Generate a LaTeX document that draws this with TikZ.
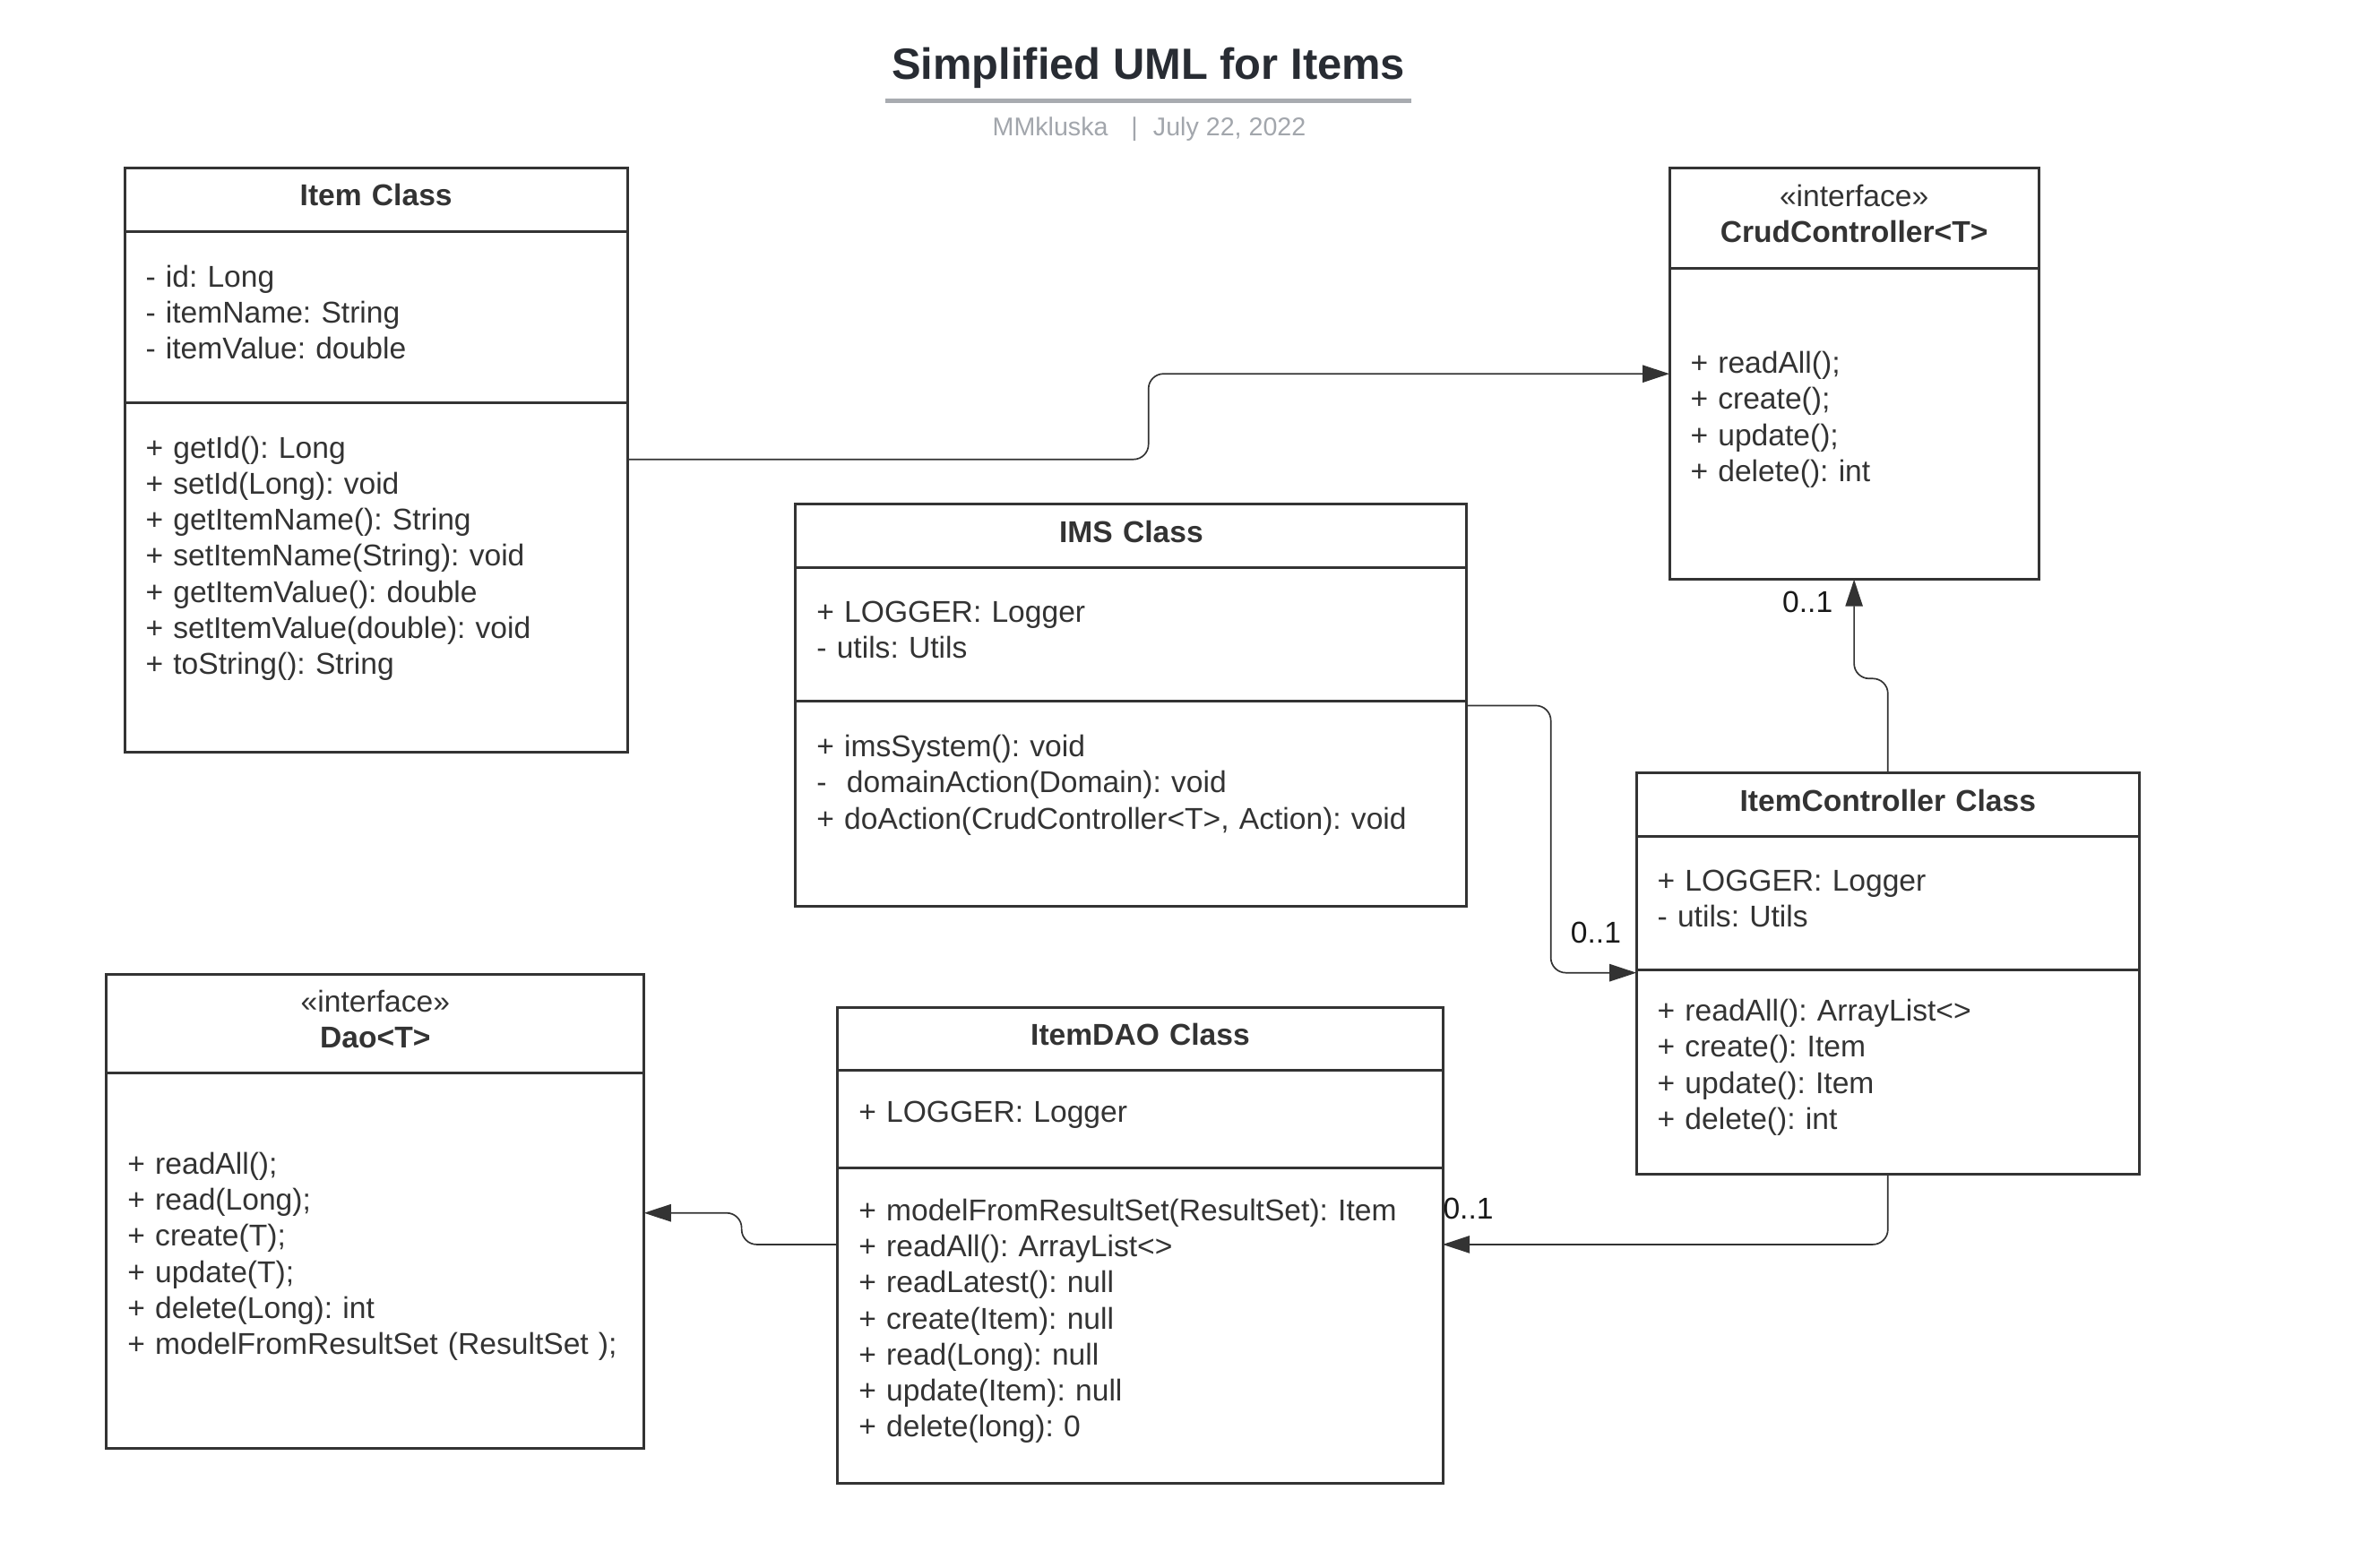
\documentclass[tikz,border=0pt]{standalone}
\usepackage{fontspec}
\setmainfont{Liberation Sans}
\usepackage{tikz}
\usetikzlibrary{arrows.meta,positioning,calc}
\frenchspacing
\definecolor{cInk}{HTML}{333333}
\definecolor{cHead}{HTML}{282C33}
\definecolor{cMute}{HTML}{A2A6AC}
\definecolor{cRule}{HTML}{A8ABB0}
\newlength{\pxu}
\setlength{\pxu}{0.016754cm}
\tikzset{
  >={Triangle[length=3.0mm,width=1.93mm]},
  box/.style  ={draw=cInk,line width=1.8\pxu,outer sep=0pt,inner xsep=14\pxu,
                inner ysep=0pt,text=cInk,execute at end node={\par\vspace{6\pxu}},
                font=\fontsize{9.56}{11.44}\selectfont},
  hbox/.style ={box,align=center,text width=#1},
  cbox/.style ={box,align=left,text width=#1},
  ar/.style   ={->,line width=1\pxu,cInk,rounded corners=10\pxu},
  mult/.style ={text=black!90,font=\fontsize{9.56}{11.44}\selectfont,inner sep=1pt},
}

\begin{document}
\begin{tikzpicture}[x=0.016754cm,y=-0.016754cm]
\useasboundingbox (0,0) rectangle (1568,1044);
\node[font=\fontsize{13.9}{16}\selectfont\bfseries,text=cHead] (title) at (765,45.5) {Simplified UML for Items};
\node[font=\fontsize{8.15}{10}\selectfont,text=cMute] (sub) at (765.5,86) {MMkluska\hspace{0.9em}|\hspace{0.6em}July 22, 2022};
\draw[cRule,line width=3\pxu] ($(title.center)+(-175,21.5)$) -- ($(title.center)+(175,21.5)$);

\node[hbox=307\pxu,minimum height=42\pxu,anchor=north west] (item) at (83,112) {\textbf{Item Class}};
\node[cbox=307\pxu,minimum height=114\pxu,below=0pt of item] (item-a) {- id: Long\\- itemName: String\\- itemValue: double};
\node[cbox=307\pxu,minimum height=233\pxu,below=0pt of item-a] (item-m) {+ getId(): Long\\+ setId(Long): void\\+ getItemName(): String\\+ setItemName(String): void\\+ getItemValue(): double\\+ setItemValue(double): void\\+ toString(): String\\[-8\pxu]\strut};

\node[hbox=218\pxu,minimum height=67\pxu,anchor=north west] (crud) at (1112,112) {«interface»\\\textbf{CrudController<T>}};
\node[cbox=218\pxu,minimum height=207\pxu,below=0pt of crud] (crud-m) {+ readAll();\\+ create();\\+ update();\\+ delete(): int};

\node[hbox=419\pxu,minimum height=42\pxu,anchor=north west] (ims) at (530,336) {\textbf{IMS Class}};
\node[cbox=419\pxu,minimum height=89\pxu,below=0pt of ims] (ims-a) {+ LOGGER: Logger\\- utils: Utils};
\node[cbox=419\pxu,minimum height=137\pxu,below=0pt of ims-a] (ims-m) {+ imsSystem(): void\\-\ \ domainAction(Domain): void\\+ doAction(CrudController<T>, Action): void\\[-8\pxu]\strut};

\node[hbox=307\pxu,minimum height=42\pxu,anchor=north west] (ictl) at (1090,515) {\textbf{ItemController Class}};
\node[cbox=307\pxu,minimum height=89\pxu,below=0pt of ictl] (ictl-a) {+ LOGGER: Logger\\- utils: Utils};
\node[cbox=307\pxu,minimum height=136\pxu,below=0pt of ictl-a] (ictl-m) {+ readAll(): ArrayList<>\\+ create(): Item\\+ update(): Item\\+ delete(): int};

\node[hbox=330\pxu,minimum height=66\pxu,anchor=north west] (dao) at (71,649) {«interface»\\\textbf{Dao<T>}};
\node[cbox=330\pxu,minimum height=250\pxu,below=0pt of dao] (dao-m) {+ readAll();\\+ read(Long);\\+ create(T);\\+ update(T);\\+ delete(Long): int\\+ modelFromResultSet (ResultSet );};

\node[hbox=375\pxu,minimum height=42\pxu,anchor=north west] (idao) at (558,671) {\textbf{ItemDAO Class}};
\node[cbox=375\pxu,minimum height=65\pxu,below=0pt of idao] (idao-a) {+ LOGGER: Logger};
\node[cbox=375\pxu,minimum height=210\pxu,below=0pt of idao-a] (idao-m) {+ modelFromResultSet(ResultSet): Item\\+ readAll(): ArrayList<>\\+ readLatest(): null\\+ create(Item): null\\+ read(Long): null\\+ update(Item): null\\+ delete(long): 0};

\draw[ar] ([yshift=-38\pxu]item-m.north east) -- ++(347,0) |- ([yshift=33.5\pxu]crud-m.west);
\draw[ar] ([yshift=-3\pxu]ims-m.north east) -- ++(56,0) |- ([yshift=-2\pxu]ictl-m.north west);
\draw[ar] (ictl.north) -- ++(0,-63) -| (crud-m.south);
\draw[ar] (ictl-m.south) |- ([yshift=-51\pxu]idao-m.north east);
\draw[ar] ([yshift=-51\pxu]idao-m.north west) -- ++(-64,0) |- ([yshift=32\pxu]dao-m.east);

\node[mult] (m1) at ([xshift=-27\pxu,yshift=25\pxu]ictl-m.north west) {0..1};
\node[mult] (m2) at ([xshift=-31\pxu,yshift=-15\pxu]crud-m.south) {0..1};
\node[mult] (m3) at ([xshift=17\pxu,yshift=-27\pxu]idao-m.north east) {0..1};
\end{tikzpicture}
\end{document}
